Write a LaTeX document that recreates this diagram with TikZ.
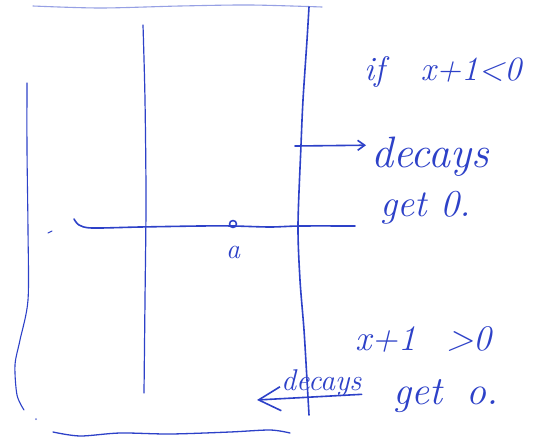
\documentclass[tikz,border=0pt]{standalone}
\usepackage{fontspec}
\usetikzlibrary{arrows.meta}
\definecolor{inkblue}{RGB}{45,65,200}
\begin{document}
\begin{tikzpicture}[x=1pt,y=-1pt,
  ink/.style={draw=inkblue, line width=1.6pt, line cap=round, line join=round},
  faint/.style={draw=inkblue!50, line width=1.1pt, line cap=round},
  hand/.style={text=inkblue, inner sep=0pt, anchor=base west}]
\useasboundingbox[fill=white] (0,0) rectangle (535,439);
% frame
\draw[faint] plot[smooth] coordinates {(33,6) (100,8) (180,6) (250,5) (322,7)};
\draw[ink] plot[smooth] coordinates {(309,7) (307,40) (303,100) (301,145) (298,225) (300,280) (304,330) (307,380) (309,415)};
\draw[ink, line width=1.1pt] plot[smooth] coordinates {(27,83) (27,150) (28,230) (28,300) (20,340) (15,365) (17,395) (24,410)};
\fill[inkblue!70] (36,419) circle (1);
\draw[ink, line width=1.3pt] plot[smooth] coordinates {(53,432) (80,436) (120,433) (170,434) (230,432) (270,430) (290,433)};
% inner vertical
\draw[ink, line width=1.2pt] plot[smooth] coordinates {(143,25) (145,100) (146,200) (145,300) (144,393)};
% horizontal axis
\draw[ink] plot[smooth] coordinates {(74,219) (79,225) (92,228) (140,227) (200,226) (233,226) (270,227) (300,226) (355,226)};
\draw[ink, line width=1.1pt] (48,233) -- (52,231);
\draw[ink] (233,224) circle (3.5);
\node[hand, font=\itshape\fontsize{28}{30}\selectfont] (a) at (226,258) {a};
% texts
\node[hand, font=\itshape\fontsize{34}{38}\selectfont] (cond1) at (364,80) {if\hspace{36pt}x+1<0};
\node[hand, font=\itshape\fontsize{44}{48}\selectfont] (udec) at (371,167) {decays};
\node[hand, font=\itshape\fontsize{38}{42}\selectfont] (uget) at (380,216) {get 0.};
\node[hand, font=\itshape\fontsize{36}{40}\selectfont] (cond2) at (355,350) {x+1\hspace{30pt}>0};
\node[hand, font=\itshape\fontsize{30}{34}\selectfont] (ldec) at (281,390) {decays};
\node[hand, font=\itshape\fontsize{40}{44}\selectfont] (lget) at (393,404) {get\hspace{24pt}o.};
% arrows
\coordinate (ustart) at (295,146);
\draw[ink, -{Straight Barb[length=7pt,width=10pt]}] (ustart) -- ([xshift=-5pt,yshift=11pt]udec.west);
\coordinate (ltip) at (257,400);
\draw[ink, -{Straight Barb[length=22pt,width=24pt]}] ([yshift=2pt]ldec.south east) -- (ltip);
\end{tikzpicture}
\end{document}
